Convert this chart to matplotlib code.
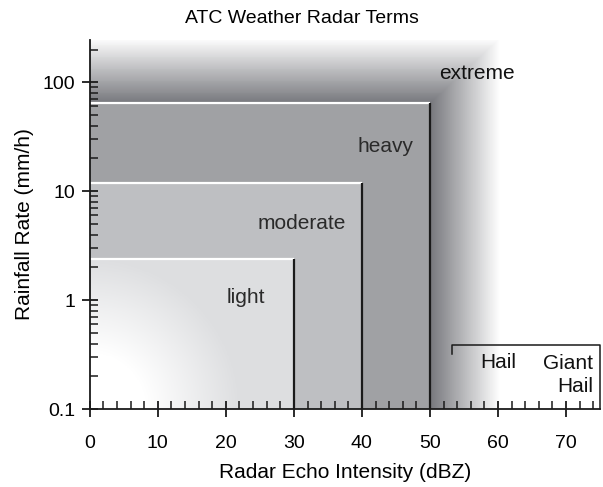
import numpy as np
import matplotlib
matplotlib.use("Agg")
import matplotlib.pyplot as plt
from matplotlib.ticker import FixedLocator, LogLocator, FuncFormatter, NullFormatter

plt.rcParams['font.family'] = ['Liberation Sans', 'DejaVu Sans']

# category boundaries (dBZ) and rainfall rate tops (mm/h)
category_names = ["light", "moderate", "heavy", "extreme"]
dbz_edges = [30, 40, 50]
rain_tops = [2.4, 12, 64]

# label positions (dBZ, mm/h)
label_x = [22.9, 31.1, 43.4, 56.9]
label_y = [1.05, 5.1, 26, 121]

# hail bracket
hail_start = 53.3
hail_level = 0.39
hail_tick_bottom = 0.32

x_ticks = [0, 10, 20, 30, 40, 50, 60, 70]
y_ticks = [0.1, 1, 10, 100]

x_lim = (0, 75)
y_lim = (0.1, 245)

# fill colours
light_col = np.array([221, 222, 224]) / 255
moderate_col = np.array([190, 191, 194]) / 255
heavy_col = np.array([160, 161, 164]) / 255
extreme_col = np.array([118, 119, 124]) / 255
white = np.array([1.0, 1.0, 1.0])

fig = plt.figure(figsize=(6.03, 4.87), dpi=100)
ax = fig.add_axes([0.149, 0.16, 0.846, 0.758])
ax.set_yscale('log')
ax.set_xlim(*x_lim)
ax.set_ylim(*y_lim)

# background grid
xs = np.linspace(x_lim[0], x_lim[1], 751)
ys = np.logspace(np.log10(y_lim[0]), np.log10(y_lim[1]), 401)
xc = 0.5 * (xs[1:] + xs[:-1])
yc = np.sqrt(ys[1:] * ys[:-1])
X, Y = np.meshgrid(xc, yc)
LY = np.log10(Y)

img = np.ones(X.shape + (3,))

# extreme: gradient outward from heavy box
dx = np.clip(X - dbz_edges[2], 0, None) / 10.3
dy = np.clip(LY - np.log10(rain_tops[2]), 0, None) / 0.6
t = np.clip(np.maximum(dx, dy), 0, 1)
ext = extreme_col[None, None, :] * (1 - t[..., None]) + white[None, None, :] * t[..., None]
img[:] = ext

heavy_mask = (X <= dbz_edges[2]) & (Y <= rain_tops[2])
img[heavy_mask] = heavy_col
mod_mask = (X <= dbz_edges[1]) & (Y <= rain_tops[1])
img[mod_mask] = moderate_col

# light: radial fade to white at the origin (in pixel-like units)
light_mask = (X <= dbz_edges[0]) & (Y <= rain_tops[0])
px = X * 6.82
py = (LY + 1) * 109
r = np.hypot(px, py)
tl = np.clip((r - 55) / 95, 0, 1)
light = white[None, None, :] * (1 - tl[..., None]) + light_col[None, None, :] * tl[..., None]
img[light_mask] = light[light_mask]

ax.pcolormesh(xs, ys, img, shading='flat', rasterized=True, zorder=0)

# box edges: white tops, black right sides
for edge, top in zip(dbz_edges, rain_tops):
    ax.plot([0, edge], [top, top], color='white', lw=1.6, zorder=2, solid_capstyle='butt')
    ax.plot([edge, edge], [y_lim[0], top], color='#1a1a1a', lw=1.6, zorder=3, solid_capstyle='butt')

# category labels
for name, lx, ly in zip(category_names, label_x, label_y):
    ax.text(lx, ly, name, ha='center', va='center', fontsize=15,
            color='#111111' if name == 'extreme' else '#2a2a2a', zorder=4)

# hail bracket
ax.plot([hail_start, hail_start, x_lim[1], x_lim[1]],
        [hail_tick_bottom, hail_level, hail_level, y_lim[0]],
        color='#1a1a1a', lw=1.1, zorder=3, clip_on=False)
ax.text(60.0, 0.27, "Hail", ha='center', va='center', fontsize=15, color='#111111')
ax.text(74.0, 0.207, "Giant\nHail", ha='right', va='center', fontsize=15,
        color='#111111', linespacing=1.25, multialignment='right')

# axes styling
for s in ['top', 'right']:
    ax.spines[s].set_visible(False)
for s in ['left', 'bottom']:
    ax.spines[s].set_linewidth(1.3)
    ax.spines[s].set_color('#1a1a1a')
    ax.spines[s].set_zorder(5)

ax.xaxis.set_major_locator(FixedLocator(x_ticks))
ax.xaxis.set_minor_locator(FixedLocator(np.arange(0, 75, 2)))
ax.yaxis.set_major_locator(FixedLocator(y_ticks))
ax.yaxis.set_minor_locator(LogLocator(base=10, subs=np.arange(2, 10)))
ax.yaxis.set_major_formatter(FuncFormatter(lambda v, p: f"{v:g}"))
ax.yaxis.set_minor_formatter(NullFormatter())

ax.tick_params(axis='both', which='major', direction='inout', length=11, width=1.3,
               color='#1a1a1a', labelsize=14, pad=5)
ax.tick_params(axis='both', which='minor', direction='in', length=5.5, width=1.1,
               color='#1a1a1a')
ax.tick_params(axis='x', which='major', pad=13)

ax.set_xlabel("Radar Echo Intensity (dBZ)", fontsize=15, labelpad=8)
ax.set_ylabel("Rainfall Rate (mm/h)", fontsize=15, labelpad=6)
fig.text(0.5, 0.963, "ATC Weather Radar Terms", ha='center', va='center', fontsize=14)

fig.savefig("out.png", dpi=100)
